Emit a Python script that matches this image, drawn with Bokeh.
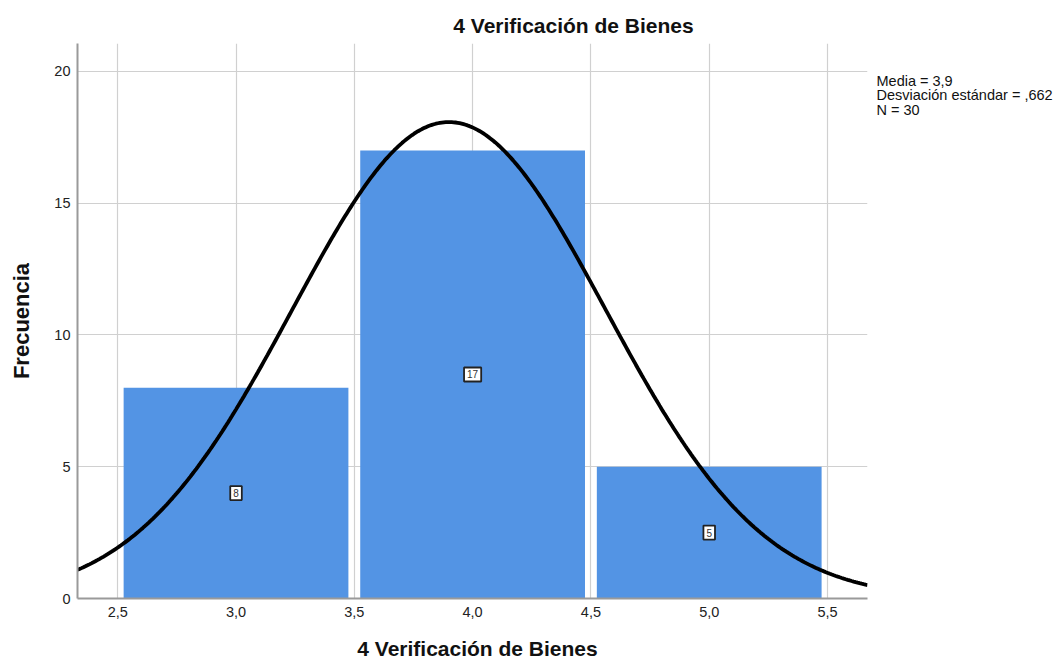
import numpy as np
from bokeh.plotting import figure
from bokeh.models import Range1d, FixedTicker, Label, ColumnDataSource
from bokeh.embed import file_html
from bokeh.resources import INLINE

# Data
bin_centers = [3.0, 4.0, 5.0]
counts = [8, 17, 5]
mean = 3.9
std = 0.662
n = 30
bin_width = 1.0
x_ticks = [2.5, 3.0, 3.5, 4.0, 4.5, 5.0, 5.5]
x_tick_labels = ["2,5", "3,0", "3,5", "4,0", "4,5", "5,0", "5,5"]
y_ticks = [0, 5, 10, 15, 20]
stats_lines = ["Media = 3,9", "Desviación estándar = ,662", "N = 30"]
title_text = "4 Verificación de Bienes"
x_label = "4 Verificación de Bienes"
y_label = "Frecuencia"

FONT = "Liberation Sans"
XMIN, XMAX = 2.33, 5.669
YMIN, YMAX = 0, 21.06

p = figure(width=1061, height=663, output_backend="svg", toolbar_location=None,
           x_range=Range1d(XMIN, XMAX), y_range=Range1d(YMIN, YMAX),
           min_border_left=77, min_border_right=194, min_border_top=43, min_border_bottom=65)
p.outline_line_color = None
p.background_fill_color = "white"
p.border_fill_color = "white"

# grid
p.xgrid.ticker = FixedTicker(ticks=x_ticks)
p.ygrid.ticker = FixedTicker(ticks=y_ticks)
for g in (p.xgrid, p.ygrid):
    g.grid_line_color = "#d0d0d0"
    g.grid_line_width = 1.2

# axes
p.xaxis.ticker = FixedTicker(ticks=x_ticks)
p.xaxis.major_label_overrides = {t: l for t, l in zip(x_ticks, x_tick_labels)}
p.yaxis.ticker = FixedTicker(ticks=y_ticks)
for ax in (p.xaxis, p.yaxis):
    ax.axis_line_color = "#9a9a9a"
    ax.axis_line_width = 2
    ax.major_tick_line_color = None
    ax.minor_tick_line_color = None
    ax.major_tick_out = 0
    ax.major_tick_in = 0
    ax.minor_tick_out = 0
    ax.major_label_text_font = FONT
    ax.major_label_text_font_size = "14.5px"
    ax.major_label_text_color = "#222222"
    ax.axis_label_text_font = FONT
    ax.axis_label_text_font_style = "bold"
    ax.axis_label_text_color = "#111111"
p.yaxis.axis_label = y_label
p.yaxis.axis_label_text_font_size = "22px"
p.xaxis.major_label_standoff = 8
p.yaxis.major_label_standoff = 7
p.yaxis.axis_label_standoff = 17

# bars
src = ColumnDataSource(dict(x=bin_centers, top=counts))
p.vbar(x="x", top="top", width=0.95, bottom=0, source=src,
       fill_color="#5394e4", line_color=None)

# normal curve from the stated mean, sd and N
xs = np.linspace(XMIN, XMAX, 400)
ys = n * bin_width / (std * np.sqrt(2 * np.pi)) * np.exp(-0.5 * ((xs - mean) / std) ** 2)
p.line(xs, ys, line_color="black", line_width=3.8)

# value labels
for c, v in zip(bin_centers, counts):
    p.add_layout(Label(x=c, y=v / 2, text=str(v), text_font=FONT, text_font_size="10px",
                       text_align="center", text_baseline="middle", text_color="#333333",
                       background_fill_color="white", border_line_color="#222222",
                       border_line_width=1.8, padding=3))

# title
p.add_layout(Label(x=573, y=25, x_units="canvas", y_units="canvas", text=title_text,
                   text_font=FONT, text_font_size="21px", text_font_style="bold",
                   text_align="center", text_baseline="middle", text_color="#111111"), "above")

# x axis label
p.add_layout(Label(x=477, y=648, x_units="canvas", y_units="canvas", text=x_label,
                   text_font=FONT, text_font_size="21px", text_font_style="bold",
                   text_align="center", text_baseline="middle", text_color="#111111"), "below")

# stats text
p.add_layout(Label(x=876, y=72, x_units="canvas", y_units="canvas", text="\n".join(stats_lines),
                   text_font=FONT, text_font_size="14.5px", text_align="left", text_baseline="top",
                   text_line_height=0.92, text_color="#111111"), "right")

open("out.html", "w").write(file_html(p, INLINE))
